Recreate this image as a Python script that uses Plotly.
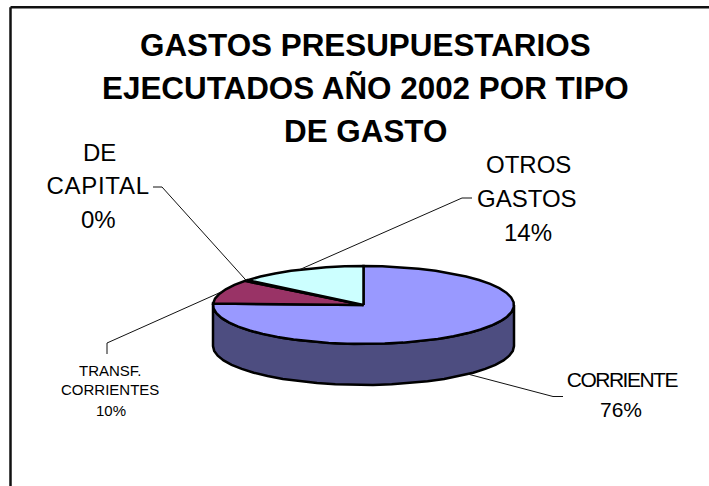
import numpy as np
import plotly.graph_objects as go

# Data, clockwise from 12 o'clock
categories = ["CORRIENTE", "TRANSF.<br>CORRIENTES", "DE<br>CAPITAL", "OTROS<br>GASTOS"]
values = [75.6, 10.0, 0.4, 14.0]
top_colors = ["#9999FF", "#993366", "#FFFFCC", "#CCFFFF"]
wall_colors = ["#4D4D80", "#4D1A33", "#808066", "#668080"]
title_lines = ["GASTOS PRESUPUESTARIOS", "EJECUTADOS AÑO 2002 POR TIPO", "DE GASTO"]

W, H = 709, 486
CX, CY, RX, RY, DEPTH = 363.5, 305.0, 150.5, 39.0, 41.0
OUT = "#000000"


def rim(a_deg, drop=0.0):
    a = np.radians(a_deg)
    return CX + RX * np.sin(a), CY - RY * np.cos(a) + drop


def arc(a0, a1):
    n = max(int(abs(a1 - a0) / 7), 1) + 1
    return np.linspace(a0, a1, n)


fig = go.Figure()
edges = np.concatenate([[0], np.cumsum(values)]) / sum(values) * 360

# side wall: only the part of each slice on the front half (90..270 degrees)
for i in range(len(values)):
    a0, a1 = max(edges[i], 90), min(edges[i + 1], 270)
    if a1 <= a0:
        continue
    t = arc(a0, a1)
    xt, yt = rim(t)
    xb, yb = rim(t[::-1], DEPTH)
    fig.add_trace(go.Scatter(
        x=np.r_[xt, xb, xt[0]], y=np.r_[yt, yb, yt[0]], mode="lines", fill="toself",
        fillcolor=wall_colors[i], line=dict(color=OUT, width=2.5), hoverinfo="skip", showlegend=False))

# top face
for i in range(len(values)):
    t = arc(edges[i], edges[i + 1])
    xt, yt = rim(t)
    fig.add_trace(go.Scatter(
        x=np.r_[CX, xt, CX], y=np.r_[CY, yt, CY], mode="lines", fill="toself",
        fillcolor=top_colors[i], line=dict(color=OUT, width=2.5), hoverinfo="skip", showlegend=False))

TEXT = "#000000"
FONT = "Liberation Sans"
annotations = []


def label(text, x, y, size, bold=False):
    annotations.append(dict(
        x=x, y=y, xref="x", yref="y", text=f"<b>{text}</b>" if bold else text, showarrow=False,
        xanchor="center", yanchor="middle", font=dict(family=FONT, size=size, color=TEXT)))


for line, y in zip(title_lines, [45, 88, 131]):
    label(line, 365.5, y, 31.4, bold=True)

# data labels: (x per line, y per line, font size)
label_layout = [([622, 621], [379.5, 409], 21),
                ([110, 110, 111], [370, 389, 410], 15),
                ([99, 98, 98], [152, 185.5, 219.5], 24),
                ([528, 527, 527.5], [164, 198, 232], 24)]
# leader elbows: (far end, elbow), per slice
leaders = [((563, 396.5), (553, 396.5), DEPTH),
           ((107, 354), (107, 343), 0),
           ((153, 187), (162, 187), 0),
           ((472, 198), (462, 198), 0)]

shapes = [dict(type="line", x0=10.5, x1=W, y0=7.2, y1=7.2, xref="x", yref="y", line=dict(color="#111111", width=2.5)),
          dict(type="line", x0=10.5, x1=10.5, y0=7.2, y1=H, xref="x", yref="y", line=dict(color="#111111", width=2.5))]

for i, c in enumerate(categories):
    lxs, ys, size = label_layout[i]
    parts = c.split("<br>") + [f"{round(values[i])}%"]
    for part, lx, y in zip(parts, lxs, ys):
        label(part, lx, y, size)
    mid = (edges[i] + edges[i + 1]) / 2
    far, elbow, drop = leaders[i]
    ax, ay = rim(mid, drop)
    for p, q in ((far, elbow), (elbow, (ax, ay))):
        shapes.append(dict(type="line", x0=p[0], y0=p[1], x1=q[0], y1=q[1], xref="x", yref="y",
                           line=dict(color="#111111", width=1)))

fig.update_layout(
    width=W, height=H, margin=dict(l=0, r=0, t=0, b=0),
    paper_bgcolor="white", plot_bgcolor="white", showlegend=False,
    xaxis=dict(range=[0, W], visible=False, fixedrange=True),
    yaxis=dict(range=[H, 0], visible=False, fixedrange=True),
    annotations=annotations, shapes=shapes)

# The source renderer tracks these two labels differently from the browser default.
spacing = {"CORRIENTE": "-1.5px", "CAPITAL": "0.7px"}
post = ("document.body.style.margin='0';document.body.style.overflow='hidden';"
        "var sp=" + repr(spacing) + ";"
        "document.querySelectorAll('.annotation-text').forEach(function(t){"
        "if(sp[t.textContent]){t.style.letterSpacing=sp[t.textContent];}});")

fig.write_html("out.html", config=dict(displayModeBar=False), post_script=post)
